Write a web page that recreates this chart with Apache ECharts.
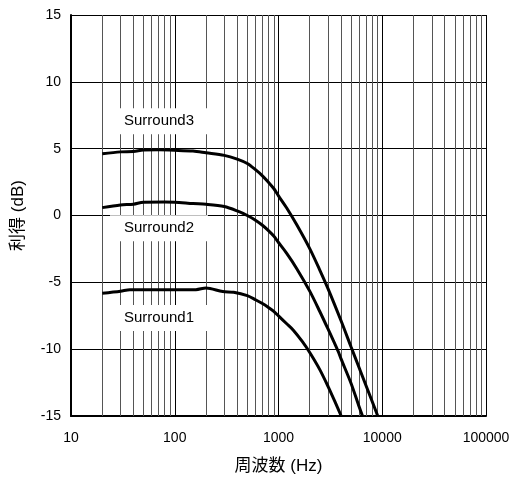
<!DOCTYPE html>
<html>
<head>
<meta charset="utf-8">
<script src="https://cdn.jsdelivr.net/npm/echarts/dist/echarts.min.js"></script>
<style>html,body{margin:0;padding:0;background:#fff}#c{width:513px;height:480px}</style>
</head>
<body>
<div id="c"></div>
<script>
// ---- data ----
var seriesNames = ['Surround1', 'Surround2', 'Surround3'];
var s1Freq = [20, 30, 37, 100, 160, 200, 290, 370, 500, 600, 700, 800, 900, 1000, 1200, 1390, 1700, 2000, 2500, 3000, 3500, 4020];
var s1Gain = [-5.82, -5.67, -5.55, -5.55, -5.55, -5.42, -5.69, -5.74, -5.99, -6.30, -6.59, -6.88, -7.17, -7.51, -8.10, -8.58, -9.44, -10.25, -11.53, -12.78, -13.93, -15];
var s2Freq = [20, 30, 40, 50, 80, 100, 150, 200, 300, 400, 500, 600, 700, 800, 900, 1000, 1200, 1500, 2000, 2500, 3000, 3770, 4000, 5000, 6000, 6450];
var s2Gain = [0.59, 0.79, 0.85, 1.0, 1.01, 1.0, 0.89, 0.84, 0.67, 0.34, 0.0, -0.35, -0.73, -1.13, -1.54, -2.02, -2.84, -3.98, -5.66, -7.18, -8.49, -10.19, -10.71, -12.55, -14.33, -15];
var s3Freq = [20, 30, 40, 50, 70, 100, 150, 200, 300, 400, 500, 600, 700, 800, 900, 1000, 1200, 1500, 2000, 2500, 3000, 4000, 5000, 6000, 7000, 8000, 9050];
var s3Gain = [4.62, 4.76, 4.78, 4.9, 4.91, 4.88, 4.82, 4.69, 4.5, 4.22, 3.89, 3.43, 2.97, 2.49, 2.02, 1.47, 0.56, -0.70, -2.48, -4.08, -5.47, -7.86, -9.82, -11.41, -12.75, -13.91, -15];
var xTickLabels = ['10', '100', '1000', '10000', '100000'];
var yTickLabels = ['-15', '-10', '-5', '0', '5', '10', '15'];
var minorMultipliers = [2, 3, 4, 5, 6, 7, 8, 9];
var decades = [10, 100, 1000, 10000];
var xName = '周波数 (Hz)';
var yName = '利得 (dB)';

function pairs(f, g) { return f.map(function (v, i) { return [v, g[i]]; }); }
var minorLines = [];
decades.forEach(function (d) { minorMultipliers.forEach(function (m) { minorLines.push({ xAxis: d * m }); }); });

var FONT = '"Liberation Sans", Arial, "Noto Sans CJK JP", sans-serif';
function labelBox(name, coord) {
  return {
    symbol: 'rect', symbolSize: [98, 26], z: 3,
    itemStyle: { color: '#ffffff' },
    label: { show: true, position: 'inside', color: '#000', fontSize: 15, fontFamily: FONT, formatter: name },
    data: [{ coord: coord }]
  };
}
function curve(name, f, g, mp) {
  return {
    name: name, type: 'line', data: pairs(f, g), showSymbol: false, symbol: 'none',
    smooth: 0.3,
    lineStyle: { color: '#000', width: 3 }, z: 4, silent: true, animation: false,
    markPoint: mp
  };
}

var chart = echarts.init(document.getElementById('c'), null, { renderer: 'canvas' });
chart.setOption({
  animation: false,
  backgroundColor: '#fff',
  grid: { left: 71, right: 27, top: 15, bottom: 62.5, show: false },
  xAxis: {
    type: 'log', logBase: 10, min: 10, max: 100000,
    name: xName, nameLocation: 'middle', nameGap: 42,
    nameTextStyle: { color: '#000', fontSize: 17, fontFamily: FONT },
    axisLine: { show: true, onZero: false, lineStyle: { color: '#000', width: 2 } },
    axisTick: { show: false },
    axisLabel: { color: '#000', fontSize: 14, fontFamily: FONT, margin: 15,
      formatter: function (v) { var s = String(Math.round(v)); return xTickLabels.indexOf(s) >= 0 ? s : ''; } },
    splitLine: { show: true, lineStyle: { color: '#000', width: 1 } }
  },
  yAxis: {
    type: 'value', min: -15, max: 15, interval: 5,
    name: yName, nameLocation: 'middle', nameGap: 44,
    nameTextStyle: { color: '#000', fontSize: 17, fontFamily: FONT },
    axisLine: { show: true, lineStyle: { color: '#000', width: 2 } },
    axisTick: { show: false },
    axisLabel: { color: '#000', fontSize: 14, fontFamily: FONT, margin: 10,
      formatter: function (v) { var s = String(v); return yTickLabels.indexOf(s) >= 0 ? s : ''; } },
    splitLine: { show: true, lineStyle: { color: '#000', width: 1 } }
  },
  series: [
    {
      type: 'line', data: [], silent: true, z: 1,
      markLine: {
        z: 1, silent: true, symbol: ['none', 'none'], animation: false,
        label: { show: false },
        lineStyle: { color: '#555', width: 1, type: 'solid' },
        emphasis: { disabled: true },
        data: minorLines
      }
    },
    curve(seriesNames[0], s1Freq, s1Gain, labelBox(seriesNames[0], [70.5, -7.66])),
    curve(seriesNames[1], s2Freq, s2Gain, labelBox(seriesNames[1], [70.5, -0.95])),
    curve(seriesNames[2], s3Freq, s3Gain, labelBox(seriesNames[2], [70.5, 7.05]))
  ]
});
</script>
</body>
</html>
